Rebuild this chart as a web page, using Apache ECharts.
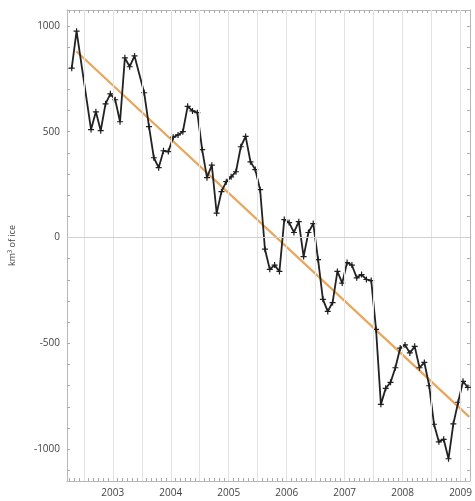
<!DOCTYPE html>
<html>
<head>
<meta charset="utf-8">
<script src="https://cdn.jsdelivr.net/npm/echarts@6/dist/echarts.min.js"></script>
<style>html,body{margin:0;padding:0;background:#fff;}#c{width:475px;height:501px;}</style>
</head>
<body>
<div id="c"></div>
<script>
// Monthly GRACE ice mass estimates (year-month) and values in km^3 of ice
const months = ["2002-04","2002-05","2002-08","2002-09","2002-10","2002-11","2002-12",
"2003-01","2003-02","2003-03","2003-04","2003-05","2003-07","2003-08","2003-09","2003-10","2003-11","2003-12",
"2004-01","2004-02","2004-03","2004-04","2004-05","2004-06","2004-07","2004-08","2004-09","2004-10","2004-11","2004-12",
"2005-01","2005-02","2005-03","2005-04","2005-05","2005-06","2005-07","2005-08","2005-09","2005-10","2005-11","2005-12",
"2006-01","2006-02","2006-03","2006-04","2006-05","2006-06","2006-07","2006-08","2006-09","2006-10","2006-11","2006-12",
"2007-01","2007-02","2007-03","2007-04","2007-05","2007-06","2007-07","2007-08","2007-09","2007-10","2007-11","2007-12",
"2008-01","2008-02","2008-03","2008-04","2008-05","2008-06","2008-07","2008-08","2008-09","2008-10","2008-11","2008-12",
"2009-01","2009-02"];
const iceMass = [800,975,510,594,505,632,679,
651,547,849,807,858,684,524,377,330,410,406,
474,485,500,620,598,590,415,283,342,115,217,264,
287,311,429,478,358,321,226,-55,-150,-130,-160,85,
71,24,75,-90,24,66,-104,-292,-349,-307,-160,-215,
-118,-130,-190,-175,-198,-203,-434,-788,-712,-684,-615,-522,
-507,-545,-514,-615,-590,-700,-882,-965,-953,-1045,-880,-778,
-679,-708];
// Linear trend end points [decimal year, value]
const trendStart = [2002.37, 880];
const trendEnd = [2009.15, -847];
// Tick labels
const yearLabels = [2003,2004,2005,2006,2007,2008,2009];
const yLabels = [-1000,-500,0,500,1000];
const xMin = 2002.21, xMax = 2009.16;
const yMin = -1150, yMax = 1075;

function toYear(s){ const p = s.split('-'); return +p[0] + (+p[1]-0.5)/12; }
const lineData = months.map((m,i)=>[toYear(m), iceMass[i]]);

const monthTicks = [];
for (let y = 2002; y <= 2010; y++) for (let k = 0; k < 12; k++) { const v = y + k/12; if (v >= xMin && v <= xMax) monthTicks.push(v); }
const yTicks = [];
for (let v = -1100; v <= 1000; v += 100) yTicks.push(v);
const halfYears = [];
for (let v = 2002.5; v <= xMax; v += 0.5) halfYears.push(v);

const axisColor = '#b8b8b8';
const labelStyle = {color:'#444', fontSize:10, fontFamily:'Open Sans, sans-serif'};
const chart = echarts.init(document.getElementById('c'), null, {renderer:'canvas'});
chart.setOption({
  backgroundColor:'#fff',
  animation:false,
  grid:{left:66, right:4, top:10, bottom:20, containLabel:false},
  xAxis:[
    {type:'value', position:'bottom', min:xMin, max:xMax,
     axisLine:{show:true, onZero:false, lineStyle:{color:axisColor}},
     axisTick:{show:true, inside:true, length:3, customValues:monthTicks, lineStyle:{color:'#aaa'}},
     axisLabel:{show:true, margin:7, customValues:yearLabels, formatter:v=>String(Math.round(v)), ...labelStyle},
     splitLine:{show:false}},
    {type:'value', position:'top', min:xMin, max:xMax,
     axisLine:{show:true, onZero:false, lineStyle:{color:axisColor}},
     axisTick:{show:true, inside:true, length:3, customValues:monthTicks, lineStyle:{color:'#aaa'}},
     axisLabel:{show:false}, splitLine:{show:false}}
  ],
  yAxis:[
    {type:'value', position:'left', min:yMin, max:yMax,
     name:'km³ of ice', nameLocation:'middle', nameGap:50, nameRotate:90,
     nameTextStyle:{color:'#444', fontSize:9, fontFamily:'Open Sans, sans-serif'},
     axisLine:{show:true, onZero:false, lineStyle:{color:axisColor}},
     axisTick:{show:true, inside:true, length:3, customValues:yTicks, lineStyle:{color:'#aaa'}},
     axisLabel:{show:true, margin:7, customValues:yLabels, formatter:v=>String(Math.round(v)), ...labelStyle},
     splitLine:{show:false}},
    {type:'value', position:'right', min:yMin, max:yMax,
     axisLine:{show:true, onZero:false, lineStyle:{color:axisColor}},
     axisTick:{show:true, inside:true, length:3, customValues:yTicks, lineStyle:{color:'#aaa'}},
     axisLabel:{show:false}, splitLine:{show:false}}
  ],
  series:[
    {type:'line', data:[], silent:true,
     markLine:{silent:true, symbol:['none','none'], label:{show:false},
       lineStyle:{color:'#e2e2e2', width:1, type:'solid'},
       data: halfYears.map(v=>({xAxis:v})).concat([{yAxis:0, lineStyle:{color:'#d0d0d0'}}])}},
    {type:'line', data:[trendStart, trendEnd], symbol:'none', silent:true,
     lineStyle:{color:'#e9a55a', width:2.2}},
    {type:'line', data:lineData, showAllSymbol:true,
     symbol:'path://M4,0h2v4h4v2h-4v4h-2v-4h-4v-2h4z', symbolSize:6,
     itemStyle:{color:'#1e1e1e'},
     lineStyle:{color:'#222', width:1.8}}
  ]
});
</script>
</body>
</html>
